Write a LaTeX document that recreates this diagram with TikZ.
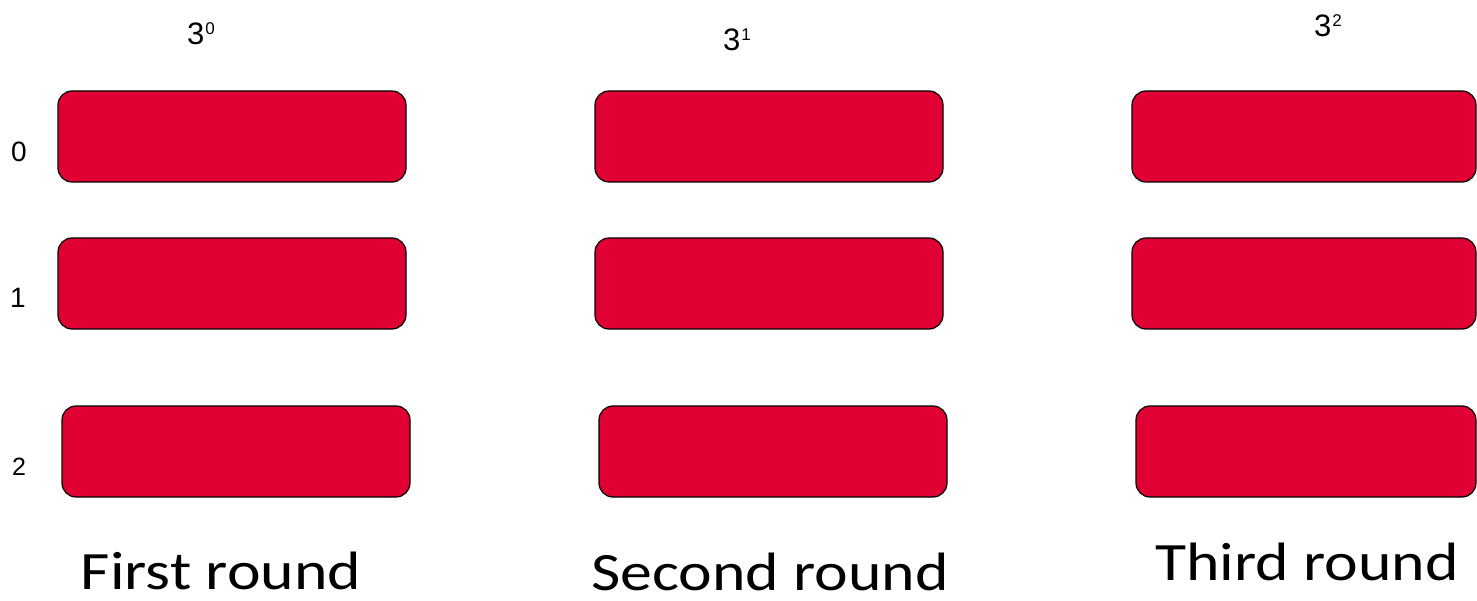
\documentclass[tikz,border=0pt]{standalone}
\usepackage{fontspec}
\usepackage{graphicx}
\setmainfont{Liberation Sans}
\newfontfamily\roundfont{Carlito}
\definecolor{boxred}{RGB}{224,0,52}
\newcommand\pw[1]{3\kern1pt\raisebox{10pt}{\fontsize{17}{17}\selectfont #1}}
\newcommand\wide[1]{\scalebox{1.18}[1]{#1}}

\begin{document}
\begin{tikzpicture}[x=1pt,y=-1pt,line width=1.2pt]

  \tikzset{
    bar/.style = {draw=black, fill=boxred, rounded corners=14pt,
                  minimum height=91pt, inner sep=0pt},
    pow/.style = {font=\fontsize{31}{31}\selectfont, inner sep=0pt,
                  anchor=base},
    idx/.style = {font=\fontsize{28}{28}\selectfont, inner sep=0pt},
    rnd/.style = {font=\roundfont\fontsize{54}{54}\selectfont,
                  inner sep=0pt, anchor=base},
  }

  \useasboundingbox (0,0) rectangle (1477,601);

  % ---- boxes, rows 0 and 1 ----------------------------------------------
  \foreach \c/\x/\w in {1/232/348, 2/769/348, 3/1304/344} {
    \node[bar, minimum width=\w] (b\c-0) at (\x,136.5) {};
    \node[bar, minimum width=\w] (b\c-1) at (\x,283.5) {};
  }

  % ---- boxes, row 2 (a little to the right) -------------------------------
  \foreach \c/\x/\w in {1/236/348, 2/773/348, 3/1306/340} {
    \node[bar, minimum width=\w] (b\c-2) at (\x,451.5) {};
  }

  % ---- powers above the columns ------------------------------------------
  \node[pow] (p0) at (201,45) {\pw{0}};
  \node[pow] (p1) at (737,51) {\pw{1}};
  \node[pow] (p2) at (1328,37) {\pw{2}};

  % ---- row numbers ---------------------------------------------------------
  \node[idx] (r0) at (19,152) {0};
  \node[idx] (r1) at (18,298) {1};
  \node[idx, font=\fontsize{25}{25}\selectfont] (r2) at (19,467) {2};

  % ---- rounds below --------------------------------------------------------
  \node[rnd] (t1) at (221,589) {\wide{First round}};
  \node[rnd] (t2) at (770,590) {\wide{Second round}};
  \node[rnd] (t3) at (1307,580) {\wide{Third round}};

\end{tikzpicture}
\end{document}
